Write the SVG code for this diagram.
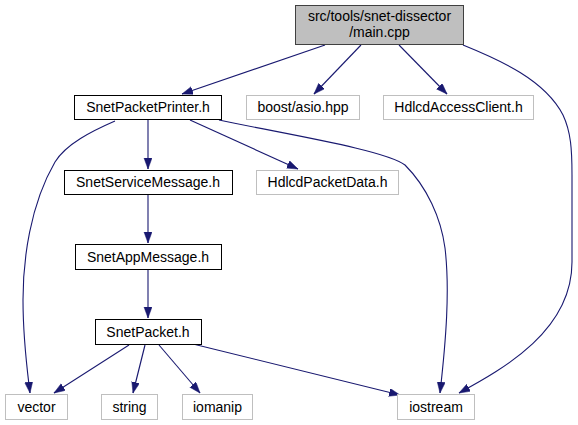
<svg xmlns="http://www.w3.org/2000/svg" width="578" height="425" viewBox="0 0 578 425">
<style>
text{font-family:"Liberation Sans",Arial,sans-serif;font-size:14px;fill:#000;text-anchor:middle}
.b rect{fill:#fff;stroke:#000;stroke-width:1}
.g rect{fill:#fff;stroke:#bfbfbf;stroke-width:1}
.m rect{fill:#bfbfbf;stroke:#404040;stroke-width:1}
.e path{fill:none;stroke:#191970;stroke-width:1.1}
</style>
<defs>
<marker id="a" markerUnits="userSpaceOnUse" markerWidth="12" markerHeight="9" refX="11" refY="4" orient="auto">
<path d="M0,0 L11,4 L0,8 z" fill="#191970" stroke="#191970" stroke-width="0.5"/>
</marker>
</defs>
<rect width="578" height="425" fill="#fff"/>
<g class="e" id="edges">
<path marker-end="url(#a)" d="M325,45 L182,94"/>
<path marker-end="url(#a)" d="M361,45 L314,94"/>
<path marker-end="url(#a)" d="M399,45 L447,94"/>
<path marker-end="url(#a)" d="M463,45 C500,60 545,80 563,115 C571,132 572,150 572,175 L572,262 C572,330 505,368 459,393"/>
<path marker-end="url(#a)" d="M148,120 L148,169"/>
<path marker-end="url(#a)" d="M190,120 L298,169"/>
<path marker-end="url(#a)" d="M115,121 C92,131 66,144 55,162 C30,205 23,260 23,300 C23,340 27,368 30,393"/>
<path marker-end="url(#a)" d="M219,120 C290,135 385,150 405,165 C427,187 441,218 445,248 C450,290 446,340 440,393"/>
<path marker-end="url(#a)" d="M148,195 L148,243"/>
<path marker-end="url(#a)" d="M148,270 L148,318"/>
<path marker-end="url(#a)" d="M129,345 L54,393"/>
<path marker-end="url(#a)" d="M145,345 L133,393"/>
<path marker-end="url(#a)" d="M159,345 L200,393"/>
<path marker-end="url(#a)" d="M193,344 L400,395"/>
</g>
<g id="main" class="m"><rect x="295.5" y="5.5" width="168" height="39"/><text x="379.5" y="21">src/tools/snet-dissector</text><text x="379.5" y="37">/main.cpp</text></g>
<g id="printer" class="b"><rect x="74.5" y="95.5" width="147" height="24"/><text x="148" y="112">SnetPacketPrinter.h</text></g>
<g id="boost" class="g"><rect x="246.5" y="95.5" width="113" height="24"/><text x="303" y="112">boost/asio.hpp</text></g>
<g id="accessclient" class="g"><rect x="383.5" y="95.5" width="150" height="24"/><text x="458.5" y="112">HdlcdAccessClient.h</text></g>
<g id="servicemsg" class="b"><rect x="64.5" y="170.5" width="168" height="24"/><text x="148" y="187">SnetServiceMessage.h</text></g>
<g id="packetdata" class="g"><rect x="256.5" y="170.5" width="142" height="24"/><text x="327.5" y="187">HdlcdPacketData.h</text></g>
<g id="appmsg" class="b"><rect x="75.5" y="244.5" width="146" height="25"/><text x="148" y="262">SnetAppMessage.h</text></g>
<g id="packet" class="b"><rect x="95.5" y="319.5" width="106" height="25"/><text x="148" y="337">SnetPacket.h</text></g>
<g id="vector" class="g"><rect x="5.5" y="394.5" width="62" height="25"/><text x="36.5" y="412">vector</text></g>
<g id="string" class="g"><rect x="101.5" y="394.5" width="56" height="25"/><text x="129.5" y="412">string</text></g>
<g id="iomanip" class="g"><rect x="182.5" y="394.5" width="70" height="25"/><text x="217.5" y="412">iomanip</text></g>
<g id="iostream" class="g"><rect x="397.5" y="394.5" width="77" height="25"/><text x="436" y="412">iostream</text></g>
</svg>
